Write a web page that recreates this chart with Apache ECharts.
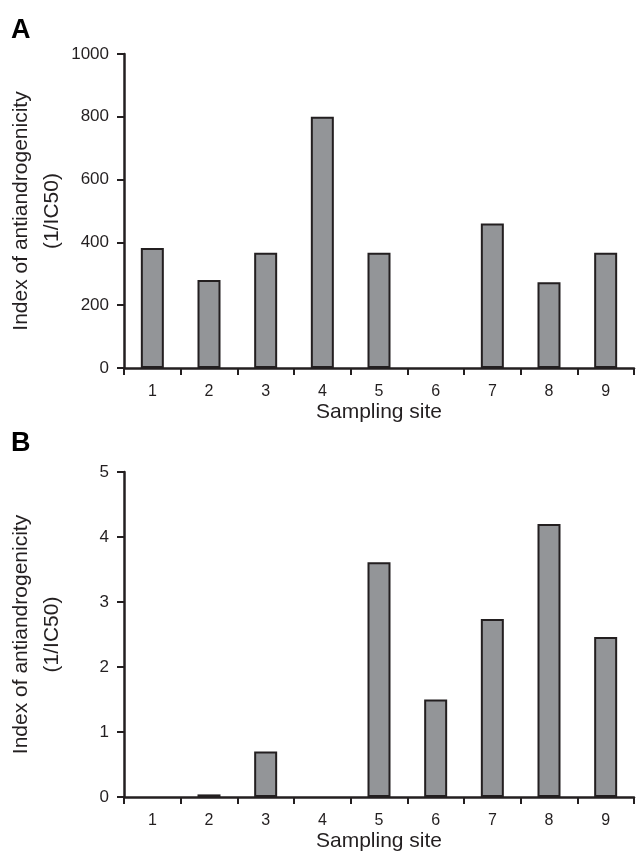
<!DOCTYPE html>
<html><head><meta charset="utf-8">
<script src="https://cdn.jsdelivr.net/npm/echarts@6/dist/echarts.min.js"></script>
<style>html,body{margin:0;padding:0;background:#fff}#c{width:636px;height:855px}</style>
</head><body><div id="c"></div>
<script>
const sites = ['1', '2', '3', '4', '5', '6', '7', '8', '9'];
const valuesA = [382, 280, 367, 800, 367, 0, 460, 273, 367];
const valuesB = [0, 0.04, 0.70, 0, 3.61, 1.50, 2.74, 4.20, 2.46];
const yTicksA = [0, 200, 400, 600, 800, 1000];
const yTicksB = [0, 1, 2, 3, 4, 5];
const panelLabels = ['A', 'B'];
const xName = 'Sampling site';
const yName = 'Index of antiandrogenicity\n(1/IC50)';

const FONT = "'Liberation Sans', Arial, Helvetica, sans-serif";
const INK = '#231f20';
const FILL = '#939598';

function xAxis(gridIndex) {
  return {
    type: 'category', gridIndex, data: sites, boundaryGap: true,
    name: xName, nameLocation: 'middle', nameGap: 34, nameMoveOverlap: false,
    nameTextStyle: { fontFamily: FONT, fontSize: 21, color: INK },
    axisLine: { show: true, lineStyle: { color: INK, width: 2.5 } },
    axisTick: { show: true, length: 7, lineStyle: { color: INK, width: 2 }, alignWithLabel: false },
    axisLabel: { fontFamily: FONT, fontSize: 16, color: INK, margin: 16 },
    splitLine: { show: false }
  };
}
function yAxis(gridIndex, ticks) {
  return {
    type: 'value', gridIndex,
    min: ticks[0], max: ticks[ticks.length - 1], interval: ticks[1] - ticks[0],
    name: yName, nameLocation: 'middle', nameGap: 56, nameRotate: 90, nameMoveOverlap: false,
    nameTextStyle: { fontFamily: FONT, fontSize: 21, color: INK, lineHeight: 31, align: 'center' },
    axisLine: { show: true, lineStyle: { color: INK, width: 2.5 } },
    axisTick: { show: true, length: 7, lineStyle: { color: INK, width: 2 } },
    axisLabel: { fontFamily: FONT, fontSize: 17, color: INK, margin: 15, formatter: v => String(v) },
    splitLine: { show: false }
  };
}
function bars(idx, data) {
  return {
    type: 'bar', xAxisIndex: idx, yAxisIndex: idx,
    data: data.map(v => (v === 0 ? '-' : v)),
    barWidth: 23,
    itemStyle: { color: FILL, borderColor: INK, borderWidth: 2 },
    emphasis: { disabled: true }, animation: false
  };
}

const chart = echarts.init(document.getElementById('c'), null, { renderer: 'canvas' });
chart.setOption({
  backgroundColor: '#fff',
  animation: false,
  grid: [
    { left: 124, width: 510, top: 54, height: 314, containLabel: false, outerBoundsMode: 'none' },
    { left: 124, width: 510, top: 472, height: 325, containLabel: false, outerBoundsMode: 'none' }
  ],
  xAxis: [xAxis(0), xAxis(1)],
  yAxis: [yAxis(0, yTicksA), yAxis(1, yTicksB)],
  series: [bars(0, valuesA), bars(1, valuesB)],
  graphic: [
    { type: 'text', left: 11, top: 17, style: { text: panelLabels[0], font: "bold 27px " + FONT, fill: '#000' } },
    { type: 'text', left: 11, top: 430, style: { text: panelLabels[1], font: "bold 27px " + FONT, fill: '#000' } }
  ]
});
</script></body></html>
